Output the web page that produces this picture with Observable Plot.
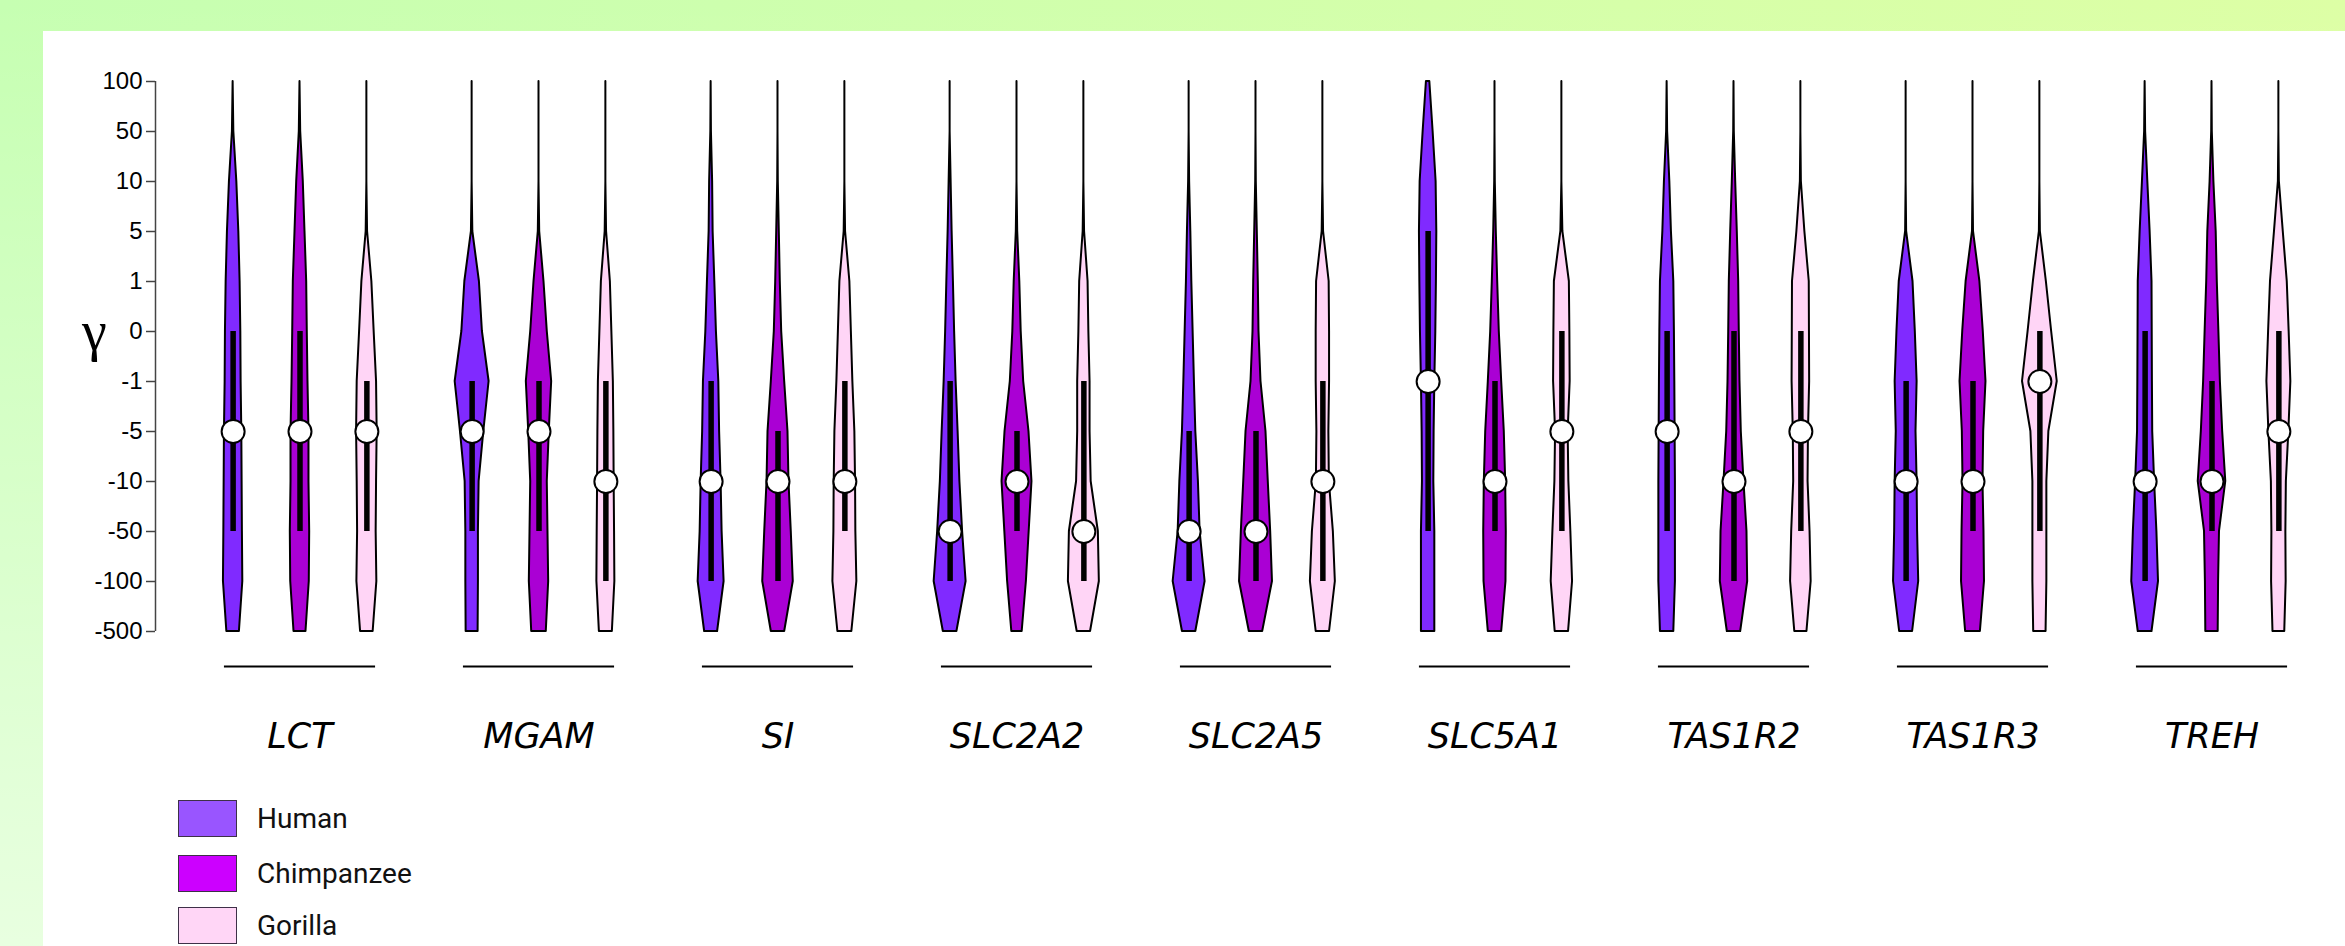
<!DOCTYPE html>
<html>
<head>
<meta charset="utf-8">
<script src="https://cdn.jsdelivr.net/npm/d3@7"></script>
<script src="https://cdn.jsdelivr.net/npm/@observablehq/plot@0.6"></script>
<style>
html, body { margin: 0; padding: 0; }
#page { position: relative; width: 2345px; height: 946px; overflow: hidden;
  background: linear-gradient(to right, #c6ffb2, #ddffa5); }
#fade { position: absolute; left: 0; top: 0; right: 0; bottom: 0;
  background: linear-gradient(to bottom, rgba(255,255,255,0), rgba(255,255,255,0.6)); }
#panel { position: absolute; left: 43px; top: 31px; right: 0; bottom: 0; background: #fff; }
#chart { position: absolute; left: 0; top: 0; }
.legend-row { position: absolute; left: 135px; display: flex; align-items: center;
  font-family: Roboto, "DejaVu Sans", sans-serif; font-size: 28px; color: #111; }
.sw { width: 59px; height: 37px; box-sizing: border-box; border: 1.5px solid #3e3048; margin-right: 20px; }
</style>
</head>
<body>
<div id="page">
  <div id="fade"></div>
  <div id="panel">
    <div id="chart"></div>
    <div id="legend"></div>
  </div>
</div>
<script>
// ---- data ----
const levels = ["100", "50", "10", "5", "1", "0", "-1", "-5", "-10", "-50", "-100", "-500"];
const genes = ["LCT", "MGAM", "SI", "SLC2A2", "SLC2A5", "SLC5A1", "TAS1R2", "TAS1R3", "TREH"];
const species = ["Human", "Chimpanzee", "Gorilla"];
const violinColors = ["#802aff", "#aa00d4", "#ffd5f6"];
const legendColors = ["#9955ff", "#cc00ff", "#ffd6f6"];
const speciesOffset = [-1, 0, 1];

// density (violin half-width) at each level, per species [Human, Chimpanzee, Gorilla]
const densLCT = [
  [0, 0.7, 3.7, 5.7, 7, 7.7, 8, 8.7, 9, 9.3, 9.7, 6.3],
  [0, 0.7, 3.3, 5, 6.7, 7.3, 8, 9, 9, 9.7, 9.3, 6],
  [0, 0, 0, 0.7, 5, 7.3, 9.7, 10.3, 9.7, 9.3, 10, 6.3]];
const densMGAM = [
  [0, 0, 0, 0.7, 7.3, 10.3, 17, 11.7, 7, 6.3, 6.3, 6],
  [0, 0, 0, 0.7, 5, 8.3, 12.7, 10.3, 8.3, 9, 9.7, 7.3],
  [0, 0, 0, 0.7, 4.5, 6, 7.5, 8, 8.3, 8.7, 9, 6.5]];
const densSI = [
  [0, 0.3, 1.5, 2, 3.7, 5.3, 7.7, 8.5, 10, 11, 13, 6.5],
  [0, 0, 0.3, 1.3, 2.3, 3.7, 6.7, 10, 11, 13.3, 15.3, 6.7],
  [0, 0, 0, 0.7, 5, 6.5, 8, 10, 10.7, 11, 12, 7]];
const densSLC2A2 = [
  [0, 0, 1, 2, 3.3, 4.5, 6, 8, 9.8, 12.5, 16, 6.8],
  [0, 0, 0, 0.7, 2.8, 4.2, 6.7, 12, 15, 12.2, 9.4, 5.2],
  [0, 0, 0, 0.7, 4.2, 5, 6.2, 6.2, 7.3, 14.5, 15.5, 6.7]];
const densSLC2A5 = [
  [0, 0, 0.5, 1.7, 2.7, 4, 5.3, 6.7, 9.3, 11, 16, 6.7],
  [0, 0, 0.3, 1.3, 2.3, 3, 5, 10, 12.3, 14.7, 16.5, 6.7],
  [0, 0, 0, 0.7, 6.3, 6.7, 6.7, 6, 6.5, 10.5, 12.5, 6.7]];
const densSLC5A1 = [
  [1.7, 5, 8, 8.7, 8.3, 7.7, 6.7, 6, 5.7, 6.7, 6.7, 6.7],
  [0, 0, 0.3, 1.3, 2.7, 4.3, 6.7, 9.3, 10.7, 11.3, 11, 6.7],
  [0, 0, 0, 1, 7.5, 8, 8.3, 6.3, 7, 9, 10.7, 6.7]];
const densTAS1R2 = [
  [0, 0.5, 2.7, 4.3, 6.7, 7.3, 7.7, 8, 8.3, 8.3, 8.3, 6.7],
  [0, 0.3, 1.7, 3.3, 4.7, 5.3, 6, 7.3, 10, 13, 13.7, 6.7],
  [0, 0, 0.5, 4, 8.4, 8.6, 8.8, 7.6, 7.2, 9.2, 10.3, 6.1]];
const densTAS1R3 = [
  [0, 0, 0, 0.5, 6.9, 9.2, 11, 9.9, 11, 11.5, 12.6, 6.5],
  [0, 0, 0, 0.5, 6.9, 10.3, 13, 10.7, 10, 11, 11.5, 7.4],
  [0, 0, 0, 0.5, 6.5, 11.8, 17.4, 9, 7, 7, 7, 6.2]];
const densTREH = [
  [0, 0.5, 2.7, 5, 6.9, 7.1, 7.3, 7.6, 9.5, 11.8, 13.4, 6.9],
  [0, 0.3, 1.9, 4.2, 5.3, 6.9, 8.4, 10.7, 13.8, 7.5, 6.6, 6.2],
  [0, 0, 0.5, 4.4, 8.4, 10.3, 12, 10, 7.5, 7, 7.3, 5.9]];
const densityByGene = [densLCT, densMGAM, densSI, densSLC2A2, densSLC2A5, densSLC5A1, densTAS1R2, densTAS1R3, densTREH];

// box (upper quartile, median, lower quartile) per gene
const upperHuman   = ["0", "-1", "-1", "-1", "-5", "5", "0", "-1", "0"];
const medianHuman  = ["-5", "-5", "-10", "-50", "-50", "-1", "-5", "-10", "-10"];
const lowerHuman   = ["-50", "-50", "-100", "-100", "-100", "-50", "-50", "-100", "-100"];
const upperChimp   = ["0", "-1", "-5", "-5", "-5", "-1", "0", "-1", "-1"];
const medianChimp  = ["-5", "-5", "-10", "-10", "-50", "-10", "-10", "-10", "-10"];
const lowerChimp   = ["-50", "-50", "-100", "-50", "-100", "-50", "-100", "-50", "-50"];
const upperGorilla = ["-1", "-1", "-1", "-1", "-1", "0", "0", "0", "0"];
const medianGorilla= ["-5", "-10", "-10", "-50", "-10", "-5", "-5", "-1", "-5"];
const lowerGorilla = ["-50", "-100", "-50", "-100", "-100", "-50", "-50", "-50", "-50"];
const uppers = [upperHuman, upperChimp, upperGorilla];
const medians = [medianHuman, medianChimp, medianGorilla];
const lowers = [lowerHuman, lowerChimp, lowerGorilla];

// ---- tables ----
const halfWidthScale = 1 / 67;
const xDomain = [-1.787, 1.787];
const groupLineHalf = 1.13;

const violinRows = [];
genes.forEach((g, gi) => species.forEach((s, si) => levels.forEach((lv, li) => {
  const d = densityByGene[gi][si][li];
  violinRows.push({gene: g, species: s, level: lv,
    x1: speciesOffset[si] - d * halfWidthScale,
    x2: speciesOffset[si] + d * halfWidthScale});
})));

const statRows = [];
genes.forEach((g, gi) => species.forEach((s, si) => {
  statRows.push({gene: g, species: s, x: speciesOffset[si],
    upper: uppers[si][gi], median: medians[si][gi], lower: lowers[si][gi]});
}));

const plot = Plot.plot({
  width: 2302,
  height: 750,
  marginLeft: 136.4,
  marginRight: 13.4,
  marginTop: 47,
  marginBottom: 148,
  style: {background: "transparent", fontFamily: "'Liberation Sans', Arial, sans-serif", fontSize: "24px", color: "black", overflow: "visible"},
  fx: {domain: genes, padding: 0},
  x: {domain: xDomain, axis: null},
  y: {type: "point", domain: levels, padding: 0},
  color: {domain: species, range: violinColors},
  marks: [
    Plot.areaX(violinRows, {fx: "gene", y: "level", x1: "x1", x2: "x2", z: "species", fill: "species",
      stroke: "black", strokeWidth: 2, strokeLinejoin: "round", curve: "linear"}),
    Plot.ruleX(statRows, {fx: "gene", x: "x", y1: "upper", y2: "lower", stroke: "black", strokeWidth: 5.5}),
    Plot.dot(statRows, {fx: "gene", x: "x", y: "median", r: 11.5, fill: "white", stroke: "black", strokeWidth: 2}),
    Plot.ruleY(genes, {fx: d => d, y: () => levels[levels.length - 1], x1: -groupLineHalf, x2: groupLineHalf,
      dy: 35, stroke: "black", strokeWidth: 2}),
    Plot.axisY({tickSize: 9, tickPadding: 4, dx: -25, stroke: "#444", strokeWidth: 1.5, fill: "black", fontSize: 24, label: null}),
    Plot.ruleX([genes[0]], {fx: d => d, x: xDomain[0], y1: () => levels[0], y2: () => levels[levels.length - 1],
      dx: -25, stroke: "#444", strokeWidth: 1.5}),
    Plot.text([{gene: genes[0], label: "γ"}], {fx: "gene", x: xDomain[0], y: () => "0", text: "label",
      dx: -86, dy: 18, lineAnchor: "bottom", textAnchor: "middle", fontSize: 56,
      fontFamily: "'Liberation Serif', 'DejaVu Serif', serif", fill: "black"}),
    Plot.axisFx({anchor: "bottom", tickSize: 0, tickPadding: 90, fontSize: 35, fontStyle: "italic",
      fontFamily: "'DejaVu Sans', sans-serif", fill: "black", label: null})
  ]
});
document.getElementById("chart").appendChild(plot);

// legend
const legend = document.getElementById("legend");
const legendTops = [769, 824, 876];
species.forEach((s, i) => {
  const row = document.createElement("div");
  row.className = "legend-row";
  row.style.top = legendTops[i] + "px";
  const sw = document.createElement("div");
  sw.className = "sw";
  sw.style.background = legendColors[i];
  const lab = document.createElement("span");
  lab.textContent = s;
  row.appendChild(sw);
  row.appendChild(lab);
  legend.appendChild(row);
});
</script>
</body>
</html>
